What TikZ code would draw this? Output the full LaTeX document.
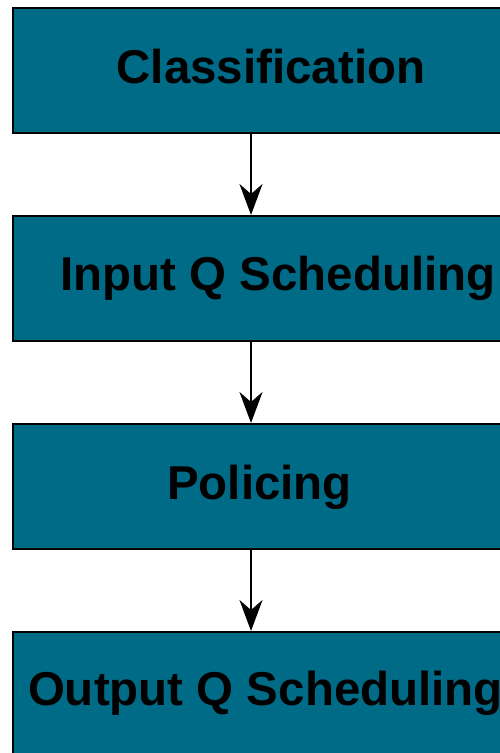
\documentclass[tikz,border=0pt]{standalone}
\usepackage{fontspec}
\setmainfont{Liberation Sans}
\usetikzlibrary{arrows.meta}
\definecolor{stageblue}{RGB}{0,107,135}
\begin{document}
\begin{tikzpicture}[x=1pt,y=-1pt,
                    stage/.style={draw=black,line width=2pt,fill=stageblue,anchor=north west,
                                  minimum width=518pt,minimum height=125pt,inner sep=0pt},
                    stage label/.style={anchor=base,inner sep=0pt,font=\fontsize{47.5}{57}\selectfont\bfseries},
                    flow/.style={line width=2pt,-{Stealth[length=31pt,width=23pt,inset=10pt]}}]
    \useasboundingbox (0,0) rectangle (500,753);

    \node[stage] (classify) at (12,7) {};
    \node[stage] (inputq) at (12,215) {};
    \node[stage] (police) at (12,423) {};
    \node[stage] (outputq) at (12,631) {};

    \node[stage label] (classify text) at (271,83) {Classification};
    \node[stage label] (inputq text) at (278,290) {Input Q Scheduling};
    \node[stage label] (police text) at (259.5,499) {Policing};
    \node[stage label] (outputq text) at (265.5,705) {Output Q Scheduling};

    \draw[flow] ([xshift=-21pt]classify.south) -- ([xshift=-21pt]inputq.north);
    \draw[flow] ([xshift=-21pt]inputq.south) -- ([xshift=-21pt]police.north);
    \draw[flow] ([xshift=-21pt]police.south) -- ([xshift=-21pt]outputq.north);
\end{tikzpicture}
\end{document}
